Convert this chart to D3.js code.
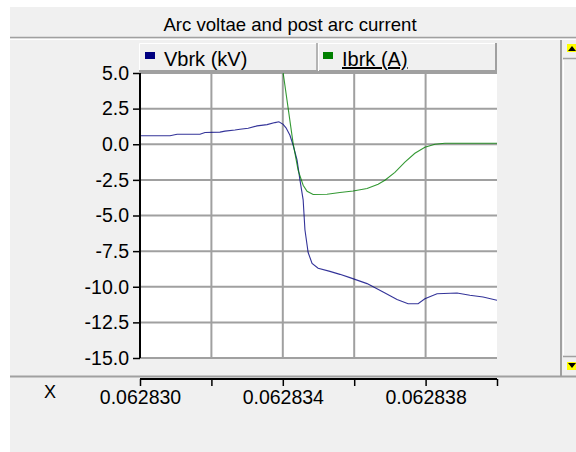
<!DOCTYPE html>
<html>
<head>
<meta charset="utf-8">
<script src="https://cdn.jsdelivr.net/npm/d3@7/dist/d3.min.js"></script>
<style>
  html, body { margin: 0; padding: 0; background: #ffffff; }
  svg { display: block; font-family: "Liberation Sans", Arial, sans-serif; }
</style>
</head>
<body>
<svg id="chart" width="576" height="452"></svg>
<script>
// ---- data ----
const title = "Arc voltae and post arc current";
const seriesNames = ["Vbrk (kV)", "Ibrk (A)"];
const seriesColors = ["#000080", "#008000"];
const xDomain = [0.062830, 0.062840];
const yDomain = [-15, 5];
const yTicks = [5.0, 2.5, 0.0, -2.5, -5.0, -7.5, -10.0, -12.5, -15.0];
const xTicks = [0.062830, 0.062832, 0.062834, 0.062836, 0.062838, 0.062840];
const xTickLabels = ["0.062830", "", "0.062834", "", "0.062838", ""];
const xAxisName = "X";

const vbrkX = [0.06283000, 0.06283084, 0.06283104, 0.06283168, 0.06283182, 0.06283224, 0.06283238,
  0.06283266, 0.06283280, 0.06283303, 0.06283328, 0.06283356, 0.06283378, 0.06283389, 0.06283401,
  0.06283409, 0.06283420, 0.06283429, 0.06283440, 0.06283448, 0.06283457, 0.06283462, 0.06283471,
  0.06283482, 0.06283499, 0.06283532, 0.06283560, 0.06283588, 0.06283636, 0.06283681, 0.06283720,
  0.06283751, 0.06283779, 0.06283798, 0.06283832, 0.06283888, 0.06283924, 0.06283961, 0.06284000];
const vbrkY = [0.6, 0.6, 0.7, 0.7, 0.82, 0.85, 0.92,
  1.0, 1.05, 1.12, 1.29, 1.38, 1.52, 1.58, 1.4,
  1.15, 0.63, -0.07, -1.12, -2.5, -3.9, -6.0, -7.6,
  -8.36, -8.7, -8.92, -9.13, -9.36, -9.78, -10.37, -10.9,
  -11.19, -11.19, -10.84, -10.49, -10.44, -10.6, -10.72, -10.95];

const ibrkX = [0.06283401, 0.06283429, 0.06283443, 0.06283457, 0.06283468, 0.06283485, 0.06283524,
  0.06283560, 0.06283597, 0.06283636, 0.06283667, 0.06283686, 0.06283714, 0.06283742, 0.06283770,
  0.06283798, 0.06283826, 0.06283854, 0.06284000];
const ibrkY = [5.0, 0.05, -1.83, -2.88, -3.3, -3.53, -3.51,
  -3.39, -3.28, -3.11, -2.81, -2.53, -1.97, -1.26, -0.63,
  -0.21, 0.0, 0.07, 0.07];

// ---- drawing ----
const svg = d3.select("#chart");
const W = 576, H = 452;
const plot = {left: 140, right: 497, top: 73, bottom: 358};
const FONT = "Liberation Sans, Arial, sans-serif";

// window background
svg.append("rect").attr("x", 10).attr("y", 7).attr("width", W - 10).attr("height", H - 7).attr("fill", "#f0f0f0");

// title
svg.append("text").attr("x", 290).attr("y", 31).attr("text-anchor", "middle")
  .attr("font-size", 18.6).attr("fill", "#000").text(title);
svg.append("line").attr("x1", 10).attr("x2", W).attr("y1", 37.5).attr("y2", 37.5).attr("stroke", "#a0a0a0").attr("stroke-width", 1.5);
svg.append("line").attr("x1", 10).attr("x2", W).attr("y1", 39.5).attr("y2", 39.5).attr("stroke", "#ffffff").attr("stroke-width", 1);

// bottom separator
svg.append("line").attr("x1", 10).attr("x2", W).attr("y1", 376.5).attr("y2", 376.5).attr("stroke", "#a0a0a0").attr("stroke-width", 2);

// scrollbar
svg.append("line").attr("x1", 561).attr("x2", 561).attr("y1", 40).attr("y2", 376).attr("stroke", "#a0a0a0").attr("stroke-width", 2);
svg.append("line").attr("x1", 563).attr("x2", W).attr("y1", 58.5).attr("y2", 58.5).attr("stroke", "#a0a0a0").attr("stroke-width", 1.5);
svg.append("line").attr("x1", 563).attr("x2", W).attr("y1", 356.5).attr("y2", 356.5).attr("stroke", "#a0a0a0").attr("stroke-width", 1.5);
svg.append("line").attr("x1", 563.5).attr("x2", 563.5).attr("y1", 60).attr("y2", 355).attr("stroke", "#ffffff").attr("stroke-width", 1);
svg.append("rect").attr("x", 567).attr("y", 44).attr("width", 9).attr("height", 8).attr("fill", "#ffff00");
svg.append("path").attr("d", "M568,51 L572,46 L576,51 Z").attr("fill", "#000");
svg.append("rect").attr("x", 567).attr("y", 362).attr("width", 9).attr("height", 8).attr("fill", "#ffff00");
svg.append("path").attr("d", "M568,363 L572,368 L576,363 Z").attr("fill", "#000");

// scales
const x = d3.scaleLinear().domain(xDomain).range([plot.left, plot.right]);
const y = d3.scaleLinear().domain(yDomain).range([plot.bottom, plot.top]);

// plot background
svg.append("rect").attr("x", plot.left).attr("y", plot.top)
  .attr("width", plot.right - plot.left).attr("height", plot.bottom - plot.top).attr("fill", "#ffffff");

// gridlines
const grid = svg.append("g");
grid.selectAll("line.h").data(yTicks).join("line").attr("class", "h")
  .attr("x1", plot.left).attr("x2", plot.right)
  .attr("y1", d => y(d)).attr("y2", d => y(d))
  .attr("stroke", "#a0a0a0").attr("stroke-width", 2);
grid.selectAll("line.v").data(xTicks.slice(1, -1)).join("line").attr("class", "v")
  .attr("x1", d => x(d)).attr("x2", d => x(d))
  .attr("y1", plot.top).attr("y2", plot.bottom)
  .attr("stroke", "#a0a0a0").attr("stroke-width", 2);

// clip
svg.append("clipPath").attr("id", "clip").append("rect")
  .attr("x", plot.left).attr("y", plot.top).attr("width", plot.right - plot.left).attr("height", plot.bottom - plot.top);

const line = d3.line().x(d => x(d[0])).y(d => y(d[1]));
const series = [
  d3.zip(vbrkX, vbrkY),
  d3.zip(ibrkX, ibrkY)
];
svg.append("g").attr("clip-path", "url(#clip)")
  .selectAll("path").data(series).join("path")
  .attr("d", line).attr("fill", "none")
  .attr("stroke", (d, i) => seriesColors[i]).attr("stroke-width", 1.1).attr("stroke-opacity", 0.8);

// y axis
const fmtY = d => d3.format(".1f")(d).replace("\u2212", "-");
const yAxis = d3.axisLeft(y).tickValues(yTicks).tickFormat(fmtY).tickSize(7).tickPadding(4);
const gy = svg.append("g").attr("transform", `translate(${plot.left},0)`).call(yAxis);
gy.select(".domain").attr("stroke", "#000").attr("stroke-width", 2).attr("d", `M0,${plot.top}V${plot.bottom}`);
gy.selectAll(".tick line").attr("stroke", "#000").attr("stroke-width", 1.5);
gy.selectAll(".tick text").attr("font-size", 19.5).attr("fill", "#000").attr("font-family", FONT);

// x axis
const xAxis = d3.axisBottom(x).tickValues(xTicks).tickFormat((d, i) => xTickLabels[i]).tickSize(7).tickPadding(4);
const gx = svg.append("g").attr("transform", `translate(0,379)`).call(xAxis);
gx.select(".domain").attr("stroke", "#000").attr("stroke-width", 2).attr("d", `M${plot.left},0H${plot.right}`);
gx.selectAll(".tick line").attr("stroke", "#000").attr("stroke-width", 1.5);
gx.selectAll(".tick text").attr("font-size", 19.5).attr("fill", "#000").attr("font-family", FONT);
svg.append("text").attr("x", 50).attr("y", 398).attr("text-anchor", "middle").attr("font-size", 18).text(xAxisName);

// legend
const leg = {left: 139, right: 496, top: 43, bottom: 71, mid: 317};
const lg = svg.append("g");
lg.append("rect").attr("x", leg.left).attr("y", leg.top).attr("width", leg.right - leg.left).attr("height", leg.bottom - leg.top).attr("fill", "#f0f0f0");
lg.append("path").attr("d", `M${leg.left + 0.5},${leg.bottom}V${leg.top + 0.5}H${leg.right}`).attr("stroke", "#ffffff").attr("fill", "none");
lg.append("path").attr("d", `M${leg.left},${leg.bottom}H${leg.right}V${leg.top}`).attr("stroke", "#a0a0a0").attr("stroke-width", 2).attr("fill", "none");
lg.append("line").attr("x1", leg.mid).attr("x2", leg.mid).attr("y1", leg.top).attr("y2", leg.bottom).attr("stroke", "#a0a0a0").attr("stroke-width", 1.5);
lg.append("line").attr("x1", leg.mid + 1.5).attr("x2", leg.mid + 1.5).attr("y1", leg.top).attr("y2", leg.bottom).attr("stroke", "#ffffff").attr("stroke-width", 1);
const cells = [leg.left, leg.mid];
seriesNames.forEach((name, i) => {
  const cx = cells[i];
  lg.append("rect").attr("x", cx + 6).attr("y", 52).attr("width", 10).attr("height", 7).attr("fill", seriesColors[i]);
  const t = lg.append("text").attr("x", cx + 25).attr("y", 66).attr("font-size", 20).attr("fill", "#000").text(name);
  if (i === 1) t.attr("text-decoration", "underline");
});
</script>
</body>
</html>
